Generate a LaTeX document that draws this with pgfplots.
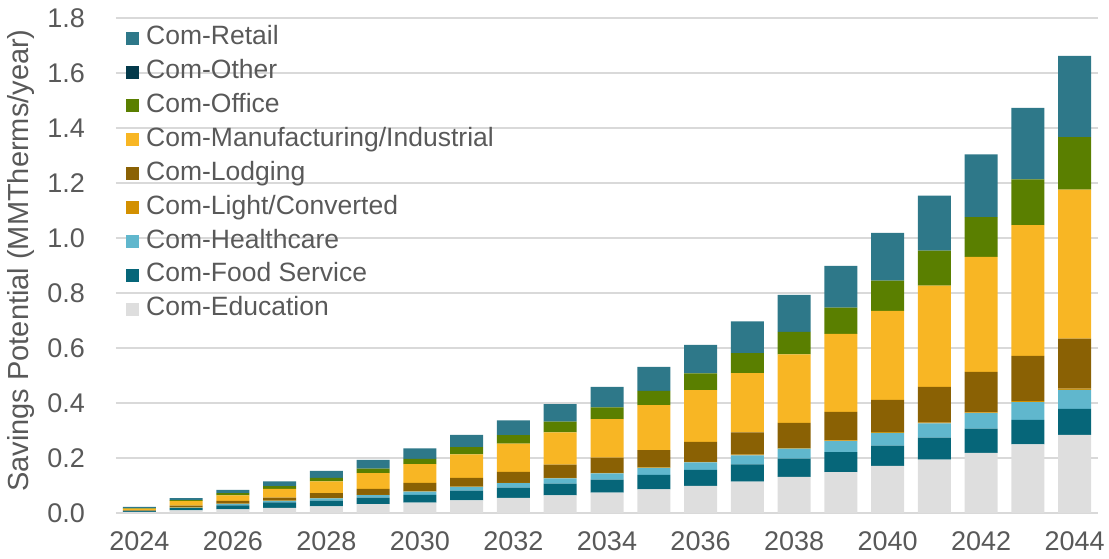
\documentclass[border=0pt]{standalone}
\usepackage{fontspec}
\setmainfont{Liberation Sans}
\usepackage{pgfplots}
\usepackage{pgfplotstable}
\pgfplotsset{compat=1.18}

\definecolor{cRetail}{HTML}{2E7889}
\definecolor{cOther}{HTML}{033A4B}
\definecolor{cOffice}{HTML}{5A7F00}
\definecolor{cManuf}{HTML}{F8B624}
\definecolor{cLodging}{HTML}{8A6104}
\definecolor{cLight}{HTML}{D39000}
\definecolor{cHealth}{HTML}{60B7CD}
\definecolor{cFood}{HTML}{066679}
\definecolor{cEdu}{HTML}{DEDEDE}
\definecolor{txtgray}{HTML}{595959}
\definecolor{gridgray}{HTML}{D9D9D9}

% year index 0 = 2024 ... 20 = 2044, values in MMTherms/year
\pgfplotstableread{
x  edu   food  health light lodging manuf office other retail
0  0.004 0.003 0.001 0.000 0.002 0.006 0.002 0 0.004
1  0.010 0.008 0.002 0.001 0.006 0.017 0.003 0 0.007
2  0.013 0.015 0.005 0.001 0.010 0.020 0.008 0 0.012
3  0.019 0.020 0.005 0.001 0.011 0.032 0.010 0 0.017
4  0.024 0.021 0.008 0.001 0.018 0.043 0.013 0 0.025
5  0.032 0.024 0.009 0.001 0.022 0.057 0.016 0 0.032
6  0.038 0.028 0.012 0.001 0.031 0.068 0.019 0 0.038
7  0.046 0.035 0.014 0.001 0.032 0.085 0.027 0 0.044
8  0.055 0.037 0.017 0.001 0.040 0.102 0.031 0 0.054
9  0.064 0.043 0.019 0.002 0.048 0.117 0.039 0 0.064
10 0.074 0.047 0.023 0.002 0.055 0.140 0.043 0 0.075
11 0.086 0.053 0.025 0.002 0.063 0.163 0.052 0 0.087
12 0.099 0.058 0.027 0.002 0.073 0.188 0.061 0 0.103
13 0.114 0.063 0.033 0.002 0.081 0.216 0.072 0 0.116
14 0.131 0.067 0.036 0.002 0.092 0.249 0.082 0 0.134
15 0.149 0.072 0.040 0.003 0.104 0.283 0.096 0 0.152
16 0.171 0.074 0.046 0.003 0.117 0.324 0.110 0 0.174
17 0.194 0.080 0.052 0.003 0.130 0.368 0.127 0 0.200
18 0.219 0.088 0.056 0.003 0.147 0.418 0.145 0 0.228
19 0.250 0.089 0.064 0.004 0.164 0.476 0.166 0 0.260
20 0.284 0.095 0.069 0.004 0.182 0.542 0.191 0 0.295
}\data

\begin{document}
\begin{tikzpicture}
\useasboundingbox (0,0) rectangle (1109pt,558pt);
\begin{axis}[
    at={(116pt,45pt)}, anchor=south west,
    scale only axis, width=982pt, height=495pt,
    ybar stacked, bar width=33pt,
    xmin=-0.5, xmax=20.5, ymin=0, ymax=1.8,
    xtick={0,2,4,6,8,10,12,14,16,18,20},
    xticklabels={2024,2026,2028,2030,2032,2034,2036,2038,2040,2042,2044},
    ytick={0,0.2,0.4,0.6,0.8,1.0,1.2,1.4,1.6,1.8},
    yticklabel style={/pgf/number format/fixed, /pgf/number format/fixed zerofill,
        /pgf/number format/precision=1},
    /pgf/number format/assume math mode=true,
    major tick length=0pt,
    axis line style={draw=none},
    ymajorgrids=true,
    grid style={gridgray, line width=1.5pt},
    tick label style={font=\fontsize{27}{30}\selectfont, text=txtgray},
    xticklabel style={inner sep=0pt, anchor=north, yshift=-18pt},
    yticklabel style={inner sep=0pt, anchor=east, xshift=-31pt},
    ylabel={Savings Potential (MMTherms/year)},
    ylabel style={font=\fontsize{29}{30}\selectfont, text=txtgray,
        at={(axis description cs:-0.0967,0.51)}, anchor=center},
    legend style={at={(0.0102,0.985)}, anchor=north west, draw=none, fill=none,
        font=\fontsize{26.5}{30}\selectfont, text=txtgray,
        row sep=8.9pt, inner sep=0pt,
        nodes={inner sep=1pt, text height=18pt, text depth=5pt},
        /tikz/every odd column/.append style={column sep=6pt}},
    legend cell align=left,
    reverse legend,
    legend image code/.code={\fill[#1, draw=none] (0pt,-6.5pt) rectangle (13pt,6.5pt);},
    every axis plot/.append style={draw=none},
]
\addplot[fill=cEdu] table[x=x,y=edu] \data;
\addplot[fill=cFood] table[x=x,y=food] \data;
\addplot[fill=cHealth] table[x=x,y=health] \data;
\addplot[fill=cLight] table[x=x,y=light] \data;
\addplot[fill=cLodging] table[x=x,y=lodging] \data;
\addplot[fill=cManuf] table[x=x,y=manuf] \data;
\addplot[fill=cOffice] table[x=x,y=office] \data;
\addplot[fill=cOther] table[x=x,y=other] \data;
\addplot[fill=cRetail] table[x=x,y=retail] \data;
\legend{Com-Education, Com-Food Service, Com-Healthcare, Com-Light/Converted,
    Com-Lodging, Com-Manufacturing/Industrial, Com-Office, Com-Other, Com-Retail}
\end{axis}
\end{tikzpicture}
\end{document}
